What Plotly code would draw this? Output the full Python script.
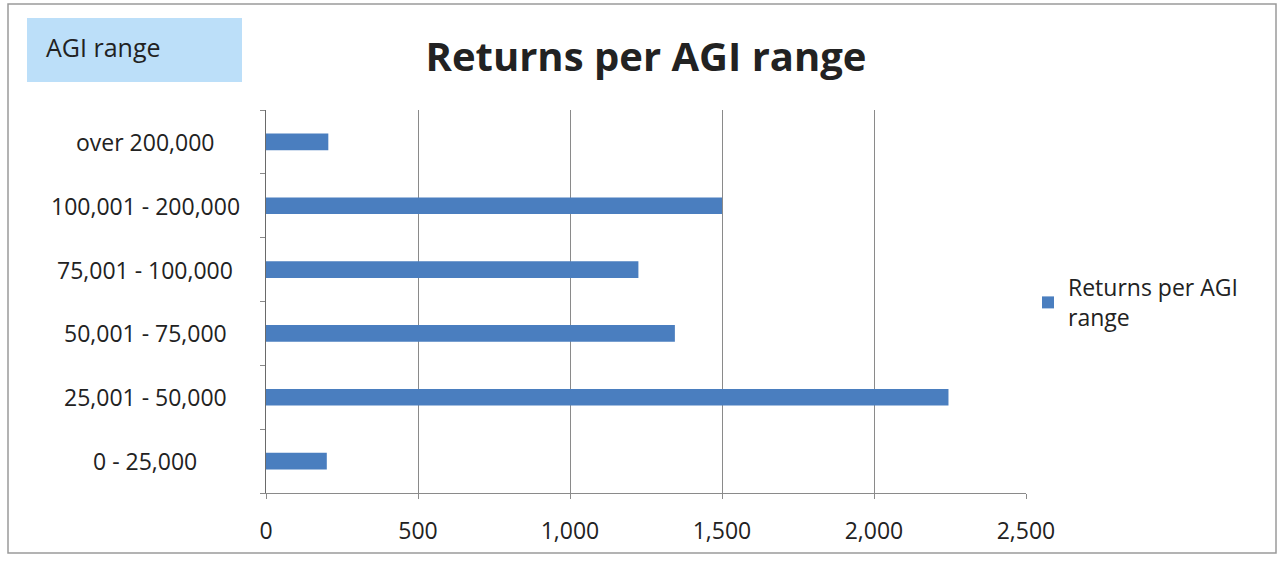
import plotly.graph_objects as go

# Adjusted gross income brackets and number of returns in each
agi_ranges = ["0 - 25,000", "25,001 - 50,000", "50,001 - 75,000",
              "75,001 - 100,000", "100,001 - 200,000", "over 200,000"]
returns = [200, 2245, 1345, 1225, 1500, 205]
x_ticks = [0, 500, 1000, 1500, 2000, 2500]
x_tick_labels = ["0", "500", "1,000", "1,500", "2,000", "2,500"]

W, H = 1282, 561
L, R, T, B = 266, 1026, 110, 493   # plot area in pixels
FONT = "Open Sans, Lato, sans-serif"
BAR = "#4a7ebf"
TXT = "#222"


def px_x(p):
    return (p - L) / (R - L)


def px_y(p):
    return (B - p) / (B - T)


fig = go.Figure()
fig.add_trace(go.Bar(
    x=returns, y=agi_ranges, orientation="h",
    marker=dict(color=BAR, line=dict(width=0)),
    name="Returns per AGI<br>range", showlegend=True,
))

# category labels, centred under one another
annotations = [
    dict(x=px_x(145), xref="paper", y=c, yref="y", text=c, showarrow=False,
         xanchor="center", yanchor="middle",
         font=dict(family=FONT, size=23, color=TXT))
    for c in agi_ranges
]
annotations.append(dict(
    x=px_x(44), xref="paper", y=px_y(47), yref="paper", text="AGI range",
    showarrow=False, xanchor="left", yanchor="middle",
    font=dict(family=FONT, size=25, color=TXT)))

shapes = [
    # outer chart frame
    dict(type="rect", xref="paper", yref="paper",
         x0=px_x(8), x1=px_x(1276), y0=px_y(553), y1=px_y(4),
         line=dict(color="#9a9a9a", width=1.5), layer="below"),
    # label box at top-left
    dict(type="rect", xref="paper", yref="paper",
         x0=px_x(27), x1=px_x(242), y0=px_y(82), y1=px_y(18),
         fillcolor="#bcdff9", line=dict(width=0), layer="below"),
]

fig.update_layout(
    width=W, height=H,
    margin=dict(l=L, r=W - R, t=T, b=H - B),
    paper_bgcolor="white", plot_bgcolor="white",
    bargap=0.74,
    title=dict(text="<b>Returns per AGI range</b>", x=646 / W,
               xanchor="center", y=1 - 57 / H, yanchor="middle",
               font=dict(family=FONT, size=40, color=TXT)),
    xaxis=dict(range=[0, 2500], tickvals=x_ticks, ticktext=x_tick_labels,
               showgrid=True, gridcolor="#8a8a8a", gridwidth=1,
               showline=True, linecolor="#8a8a8a", linewidth=1,
               ticks="outside", ticklen=5, tickcolor="#8a8a8a",
               ticklabelstandoff=12,
               tickfont=dict(family=FONT, size=23, color=TXT),
               zeroline=False, fixedrange=True),
    yaxis=dict(categoryorder="array", categoryarray=agi_ranges,
               showticklabels=False, showgrid=False,
               showline=True, linecolor="#6a6a6a", linewidth=1.2,
               ticks="outside", tickson="boundaries", ticklen=5,
               tickcolor="#8a8a8a", fixedrange=True),
    legend=dict(x=px_x(1028), xanchor="left", y=px_y(266), yanchor="top",
                font=dict(family=FONT, size=23, color=TXT),
                itemwidth=30, bgcolor="rgba(0,0,0,0)"),
    annotations=annotations,
    shapes=shapes,
)

fig.write_html("out.html")
